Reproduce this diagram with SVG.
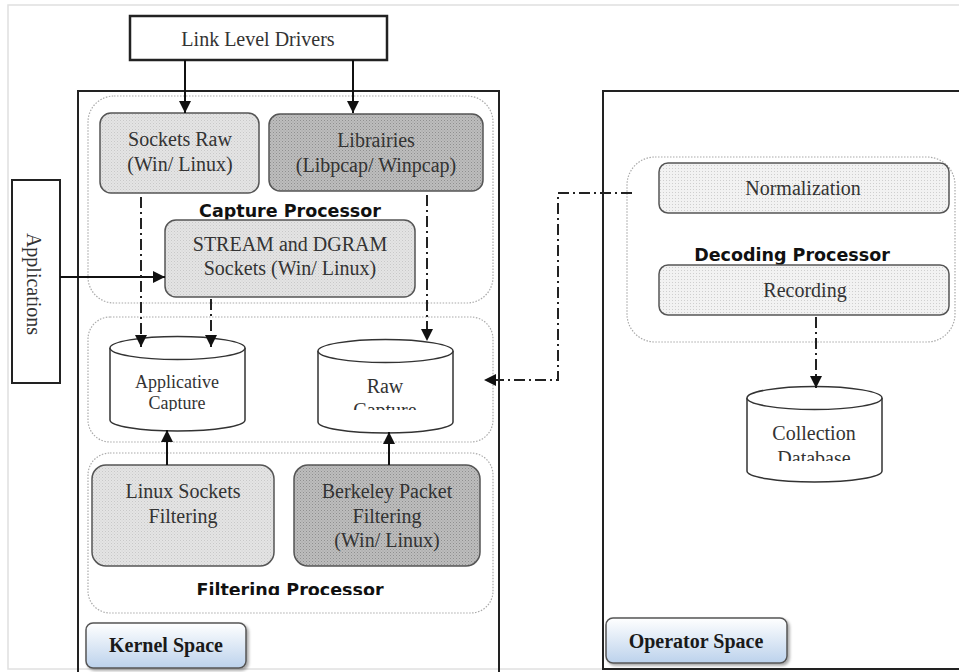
<svg xmlns="http://www.w3.org/2000/svg" width="959" height="672" viewBox="0 0 959 672">
<style>
.t{font-family:"Liberation Serif","Times New Roman",serif;font-size:20px;fill:#333;text-anchor:middle}
.b{font-family:"Liberation Serif","Times New Roman",serif;font-size:20px;font-weight:bold;fill:#1a1a1a;text-anchor:middle}
.p{font-family:"DejaVu Sans","Comic Sans MS",sans-serif;font-size:17.5px;font-weight:bold;fill:#111;text-anchor:middle}
.box{stroke:#555;stroke-width:1.5}
.outer{fill:none;stroke:#222;stroke-width:2}
.region{fill:none;stroke:#aaa;stroke-width:1.2;stroke-dasharray:1.5 1.5}
.cyl{fill:#fff;stroke:#333;stroke-width:1.5}
.solid{fill:none;stroke:#111;stroke-width:2}
.dd{fill:none;stroke:#222;stroke-width:2;stroke-dasharray:11 4 2 4}
.btn{fill:url(#gBtn);stroke:#555;stroke-width:1.5}
</style>
<defs>
<pattern id="pLight" width="3" height="3" patternUnits="userSpaceOnUse"><rect width="3" height="3" fill="#e4e4e4"/><rect width="1" height="1" fill="#c8c8c8"/><rect x="1.5" y="1.5" width="1" height="1" fill="#d0d0d0"/></pattern>
<pattern id="pDark" width="3" height="3" patternUnits="userSpaceOnUse"><rect width="3" height="3" fill="#bdbdbd"/><rect width="1" height="1" fill="#8f8f8f"/><rect x="1.5" y="1.5" width="1" height="1" fill="#9c9c9c"/></pattern>
<pattern id="pDot" width="3" height="3" patternUnits="userSpaceOnUse"><rect width="3" height="3" fill="#f2f2f2"/><rect width="1" height="1" fill="#cfcfcf"/></pattern>
<linearGradient id="gBtn" x1="0" y1="0" x2="0" y2="1"><stop offset="0" stop-color="#ffffff"/><stop offset="1" stop-color="#bcd2ec"/></linearGradient>
<filter id="sh" x="-10%" y="-10%" width="130%" height="140%"><feDropShadow dx="2" dy="2" stdDeviation="1.5" flood-color="#000" flood-opacity="0.35"/></filter>
<marker id="ah" viewBox="0 0 10 10" refX="10" refY="5" markerWidth="12" markerHeight="12" markerUnits="userSpaceOnUse" orient="auto"><path d="M0,0 L10,5 L0,10 z" fill="#111"/></marker>
<clipPath id="cA"><rect x="100" y="330" width="160" height="81"/></clipPath>
<clipPath id="cR"><rect x="310" y="330" width="160" height="80"/></clipPath>
<clipPath id="cC"><rect x="740" y="380" width="160" height="81"/></clipPath>
<clipPath id="cF"><rect x="150" y="570" width="280" height="25"/></clipPath>
</defs>

<rect x="8" y="5" width="960" height="664" fill="#fff" stroke="#e0e0e0" stroke-width="1.5"/>

<g id="kernel-space">
<rect class="outer" x="78" y="91" width="421" height="590"/>
<rect class="region" x="88" y="96" width="405" height="207" rx="26"/>
<rect class="region" x="88" y="317" width="405" height="125" rx="22"/>
<rect class="region" x="88" y="453" width="405" height="160" rx="22"/>
</g>
<g id="operator-space">
<rect class="outer" x="603" y="91" width="365" height="578"/>
<rect class="region" x="627" y="157" width="328" height="185" rx="28"/>
</g>

<g id="link-level-drivers">
<rect x="130" y="16" width="257" height="44" fill="#fff" stroke="#222" stroke-width="2.5"/>
<text class="t" x="258" y="46">Link Level Drivers</text>
</g>
<g id="applications">
<rect x="12" y="180" width="48" height="203" fill="#fff" stroke="#222" stroke-width="2"/>
<text class="t" transform="translate(27 284) rotate(90)" x="0" y="0">Applications</text>
</g>

<g id="sockets-raw">
<rect class="box" x="100" y="113" width="159" height="80" rx="11" fill="url(#pLight)"/>
<text class="t" x="180" y="146">Sockets Raw</text>
<text class="t" x="180" y="171">(Win/ Linux)</text>
</g>
<g id="libraries">
<rect class="box" x="269" y="114" width="214" height="77" rx="11" fill="url(#pDark)"/>
<text class="t" x="376" y="147">Librairies</text>
<text class="t" x="376" y="172">(Libpcap/ Winpcap)</text>
</g>
<g id="capture-processor-label">
<text class="p" x="290" y="217">Capture Processor</text>
</g>
<g id="stream-dgram">
<rect class="box" x="165" y="220" width="250" height="77" rx="11" fill="url(#pLight)"/>
<text class="t" x="290" y="251">STREAM and DGRAM</text>
<text class="t" x="290" y="275">Sockets (Win/ Linux)</text>
</g>

<g id="applicative-capture">
<path class="cyl" d="M110,348 V420 A67.5,11 0 0 0 245,420 V348"/>
<ellipse class="cyl" cx="177.5" cy="348" rx="67.5" ry="11.5"/>
<g clip-path="url(#cA)">
<text class="t" x="177" y="388" style="font-size:18px">Applicative</text>
<text class="t" x="177" y="409" style="font-size:18px">Capture</text>
</g>
</g>
<g id="raw-capture">
<path class="cyl" d="M318,351 V422 A67.5,11 0 0 0 453,422 V351"/>
<ellipse class="cyl" cx="385.5" cy="351" rx="67.5" ry="11.5"/>
<g clip-path="url(#cR)">
<text class="t" x="385" y="393">Raw</text>
<text class="t" x="385" y="417">Capture</text>
</g>
</g>

<g id="linux-sockets-filtering">
<rect class="box" x="92" y="465" width="182" height="101" rx="14" fill="url(#pLight)"/>
<text class="t" x="183" y="498">Linux Sockets</text>
<text class="t" x="183" y="523">Filtering</text>
</g>
<g id="berkeley-packet-filtering">
<rect class="box" x="294" y="465" width="186" height="101" rx="14" fill="url(#pDark)"/>
<text class="t" x="387" y="498">Berkeley Packet</text>
<text class="t" x="387" y="523">Filtering</text>
<text class="t" x="387" y="547">(Win/ Linux)</text>
</g>
<g id="filtering-processor-label">
<text class="p" x="290" y="596" clip-path="url(#cF)">Filtering Processor</text>
</g>

<g id="kernel-space-label">
<rect class="btn" x="86" y="623" width="160" height="45" rx="7" filter="url(#sh)"/>
<text class="b" x="166" y="652">Kernel Space</text>
</g>

<g id="normalization">
<rect class="box" x="659" y="163" width="290" height="50" rx="9" fill="url(#pDot)"/>
<text class="t" x="803" y="195">Normalization</text>
</g>
<g id="decoding-processor-label">
<text class="p" x="792" y="261">Decoding Processor</text>
</g>
<g id="recording">
<rect class="box" x="659" y="265" width="290" height="50" rx="9" fill="url(#pDot)"/>
<text class="t" x="805" y="297">Recording</text>
</g>
<g id="collection-database">
<path class="cyl" d="M747,398 V471 A67.5,11 0 0 0 882,471 V398"/>
<ellipse class="cyl" cx="814.5" cy="398" rx="67.5" ry="11.5"/>
<g clip-path="url(#cC)">
<text class="t" x="814" y="440">Collection</text>
<text class="t" x="814" y="465">Database</text>
</g>
</g>
<g id="operator-space-label">
<rect class="btn" x="606" y="618" width="181" height="45" rx="7" filter="url(#sh)"/>
<text class="b" x="696" y="648">Operator Space</text>
</g>

<g id="connectors">
<line class="solid" x1="185" y1="60" x2="185" y2="113" marker-end="url(#ah)"/>
<line class="solid" x1="353" y1="60" x2="353" y2="113" marker-end="url(#ah)"/>
<line class="solid" x1="60" y1="277" x2="165" y2="277" marker-end="url(#ah)"/>
<line class="dd" x1="141" y1="197" x2="141" y2="347" marker-end="url(#ah)"/>
<line class="dd" x1="211" y1="299" x2="211" y2="347" marker-end="url(#ah)"/>
<line class="dd" x1="427" y1="195" x2="427" y2="341" marker-end="url(#ah)"/>
<line class="solid" x1="167" y1="465" x2="167" y2="430" marker-end="url(#ah)"/>
<line class="solid" x1="389" y1="465" x2="389" y2="432" marker-end="url(#ah)"/>
<line class="dd" x1="816" y1="317" x2="816" y2="388" marker-end="url(#ah)"/>
<path class="dd" d="M632,193 H558 V380 H484" marker-end="url(#ah)"/>
</g>
</svg>
